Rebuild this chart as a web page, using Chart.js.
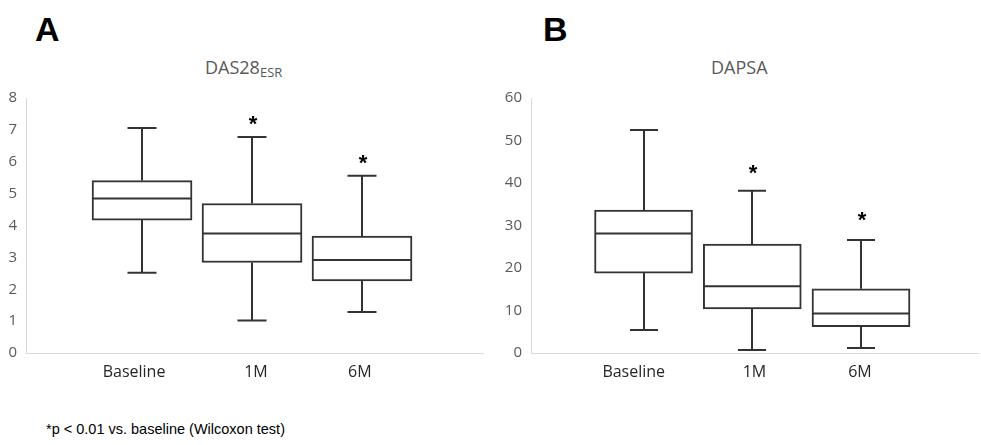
<!DOCTYPE html>
<html>
<head>
<meta charset="utf-8">
<script src="https://cdn.jsdelivr.net/npm/chart.js@4"></script>
<style>
  html, body { margin:0; padding:0; background:#fff; }
  body { width:981px; height:445px; position:relative; overflow:hidden; }
  .lbl { position:absolute; white-space:nowrap; }
  .panel { position:absolute; font-family:"Liberation Sans", Arial, sans-serif; font-weight:bold; font-size:34px; line-height:34px; color:#000; }
  .ttl { position:absolute; white-space:nowrap; font-family:"Open Sans", sans-serif; font-size:18px; line-height:18px; color:#595959; }
  .ttl .sub { font-size:13px; position:relative; top:3px; }
  .note { position:absolute; white-space:nowrap; font-family:"Liberation Sans", Arial, sans-serif; font-size:14.5px; line-height:14.5px; color:#000; }
  canvas { position:absolute; }
</style>
</head>
<body>
<div class="panel" style="left:35px; top:12px;">A</div>
<div class="panel" style="left:543px; top:12px;">B</div>
<div class="ttl" style="left:205px; top:58px;">DAS28<span class="sub">ESR</span></div>
<div class="ttl" style="left:711px; top:58px;">DAPSA</div>
<div class="note" style="left:46px; top:422px;">*p &lt; 0.01 vs. baseline (Wilcoxon test)</div>
<canvas id="c1" width="490" height="310" style="left:0; top:80px; width:490px; height:310px;"></canvas>
<canvas id="c2" width="491" height="310" style="left:490px; top:80px; width:491px; height:310px;"></canvas>
<script>
// ---- data ----
const categories = ['Baseline', '1M', '6M'];

const das28Min    = [2.52, 1.02, 1.29];
const das28Q1     = [4.17, 2.84, 2.26];
const das28Median = [4.85, 3.75, 2.92];
const das28Q3     = [5.41, 4.69, 3.67];
const das28Max    = [7.06, 6.78, 5.56];
const das28Star   = [null, 7.36, 6.13];

const dapsaMin    = [5.4, 0.7, 1.2];
const dapsaQ1     = [18.8, 10.4, 6.2];
const dapsaMedian = [28.1, 15.7, 9.3];
const dapsaQ3     = [33.6, 25.6, 15.1];
const dapsaMax    = [52.5, 38.2, 26.6];
const dapsaStar   = [null, 43.7, 32.5];

const LINE = '#333333';

function boxChart(id, s) {
  const boxPlugin = {
    id: 'boxParts',
    afterDatasetsDraw(chart) {
      const {ctx} = chart;
      const x = chart.scales.x, y = chart.scales.y;
      ctx.save();
      ctx.strokeStyle = LINE;
      ctx.lineWidth = 2;
      ctx.lineCap = 'butt';
      categories.forEach((c, i) => {
        const cx = Math.round(x.getPixelForValue(i + 1));
        const yMin = y.getPixelForValue(s.min[i]);
        const yQ1 = y.getPixelForValue(s.q1[i]);
        const yMed = y.getPixelForValue(s.median[i]);
        const yQ3 = y.getPixelForValue(s.q3[i]);
        const yMax = y.getPixelForValue(s.max[i]);
        const hw = s.box / 2, cw = s.cap / 2;
        ctx.beginPath();
        ctx.moveTo(cx, yQ3); ctx.lineTo(cx, yMax);
        ctx.moveTo(cx - cw, yMax); ctx.lineTo(cx + cw, yMax);
        ctx.moveTo(cx, yQ1); ctx.lineTo(cx, yMin);
        ctx.moveTo(cx - cw, yMin); ctx.lineTo(cx + cw, yMin);
        ctx.moveTo(cx - hw + 1, yMed); ctx.lineTo(cx + hw - 1, yMed);
        ctx.stroke();
        if (s.star[i] !== null) {
          ctx.fillStyle = '#000';
          ctx.font = 'bold 22px "Liberation Sans", Arial, sans-serif';
          ctx.textAlign = 'center';
          ctx.textBaseline = 'alphabetic';
          ctx.fillText('*', cx + 1, y.getPixelForValue(s.star[i]) + 12.5);
        }
      });
      ctx.restore();
    }
  };

  return new Chart(document.getElementById(id), {
    type: 'bar',
    data: {
      datasets: [{
        data: categories.map((c, i) => ({x: i + 1, y: [s.q1[i], s.q3[i]]})),
        backgroundColor: '#ffffff',
        borderColor: LINE,
        borderWidth: 2,
        borderSkipped: false,
        barThickness: s.box
      }]
    },
    options: {
      responsive: false,
      animation: false,
      devicePixelRatio: 1,
      layout: {padding: {left: 0, right: s.padRight, top: 16, bottom: 0}},
      plugins: {legend: {display: false}, tooltip: {enabled: false}, title: {display: false}},
      scales: {
        x: {
          type: 'linear',
          min: s.xMin, max: s.xMax,
          offset: false,
          grid: {display: false, drawTicks: false},
          border: {display: true, color: '#d9d9d9', width: 1},
          ticks: {
            autoSkip: false, maxRotation: 0, padding: 10,
            color: '#262626',
            font: {family: 'Open Sans', size: 16},
            callback: (v, i) => categories[i]
          },
          afterBuildTicks: sc => { sc.ticks = s.tickAt.map(v => ({value: v})); },
          afterFit: sc => { sc.height = 37; }
        },
        y: {
          min: 0, max: s.yMax,
          grid: {display: false, drawTicks: false},
          border: {display: true, color: '#d9d9d9', width: 1},
          ticks: {
            stepSize: s.step, padding: 9,
            color: '#595959',
            font: {family: 'Open Sans', size: 15}
          },
          afterFit: sc => { sc.width = s.yWidth; }
        }
      }
    },
    plugins: [boxPlugin]
  });
}

boxChart('c1', {
  min: das28Min, q1: das28Q1, median: das28Median, q3: das28Q3, max: das28Max, star: das28Star,
  yMax: 8, step: 1, xMin: -0.055, xMax: 4.1, tickAt: [0.927, 2.036, 2.98],
  box: 100, cap: 29, yWidth: 26, padRight: 7
});
boxChart('c2', {
  min: dapsaMin, q1: dapsaQ1, median: dapsaMedian, q3: dapsaQ3, max: dapsaMax, star: dapsaStar,
  yMax: 60, step: 10, xMin: -0.035, xMax: 4.076, tickAt: [0.91, 2.02, 2.99],
  box: 98, cap: 28, yWidth: 41, padRight: 3
});
</script>
</body>
</html>
